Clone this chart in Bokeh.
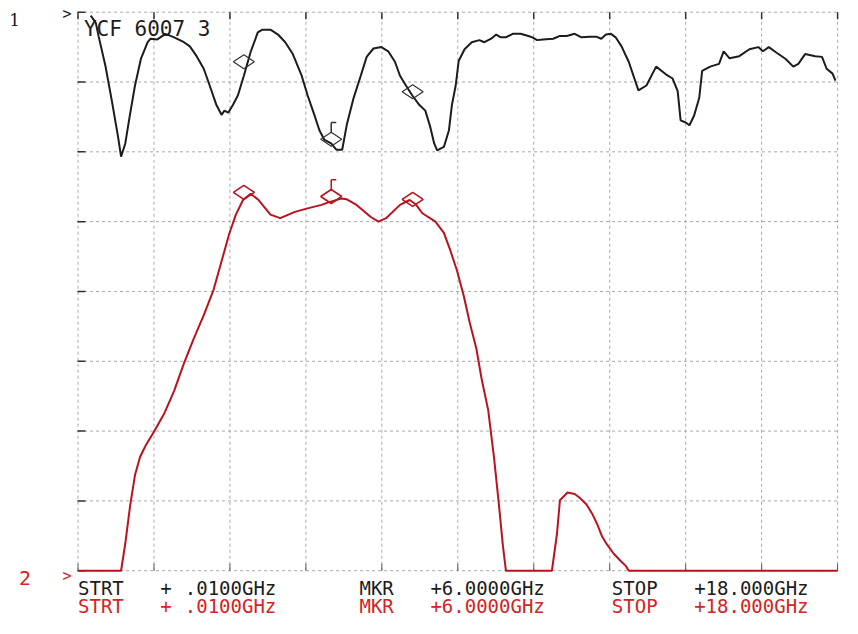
import numpy as np
from bokeh.plotting import figure
from bokeh.core.properties import value
from bokeh.embed import file_html
from bokeh.resources import INLINE

# ---------------- data (frequency in GHz, level in divisions, 0..8) ----------------
trace1_freq = [0.30, 0.42, 0.49, 0.65, 0.79, 0.95, 1.02, 1.12, 1.23, 1.35, 1.49, 1.65, 1.72,
               1.88, 2.07, 2.28, 2.51, 2.65, 2.81, 2.98, 3.12, 3.28, 3.40, 3.47, 3.56, 3.67,
               3.79, 3.93, 4.09, 4.26, 4.37, 4.56, 4.74, 4.91, 5.09, 5.30, 5.44, 5.60, 5.72,
               5.84, 6.00, 6.12, 6.26, 6.37, 6.53, 6.70, 6.84, 7.00, 7.19, 7.35, 7.51, 7.63,
               7.77, 7.93, 8.09, 8.23, 8.35, 8.44, 8.51, 8.67, 8.79, 8.86, 8.95, 9.02, 9.16,
               9.33, 9.51, 9.63, 9.79, 9.91, 10.02, 10.14, 10.30, 10.49, 10.67, 10.77, 10.88,
               11.02, 11.26, 11.42, 11.58, 11.77, 11.93, 12.12, 12.28, 12.40, 12.51, 12.63,
               12.74, 12.88, 13.05, 13.28, 13.47, 13.70, 13.93, 14.09, 14.21, 14.28, 14.40,
               14.49, 14.60, 14.72, 14.79, 14.98, 15.19, 15.30, 15.44, 15.67, 15.91, 16.12,
               16.23, 16.37, 16.53, 16.77, 16.95, 17.07, 17.23, 17.47, 17.63, 17.74, 17.88,
               17.95]
trace1_level = [7.95, 7.85, 7.65, 7.23, 6.77, 6.21, 5.93, 6.12, 6.53, 6.95, 7.33, 7.57, 7.62,
                7.61, 7.69, 7.64, 7.57, 7.51, 7.37, 7.19, 6.95, 6.67, 6.53, 6.59, 6.56, 6.67,
                6.81, 7.09, 7.43, 7.71, 7.75, 7.75, 7.68, 7.57, 7.40, 7.09, 6.81, 6.53, 6.31,
                6.17, 6.12, 6.03, 6.03, 6.39, 6.77, 7.09, 7.36, 7.48, 7.50, 7.44, 7.29, 7.09,
                6.95, 6.80, 6.67, 6.59, 6.35, 6.12, 6.02, 6.07, 6.31, 6.67, 6.95, 7.30, 7.47,
                7.57, 7.60, 7.57, 7.62, 7.68, 7.64, 7.64, 7.69, 7.69, 7.66, 7.64, 7.60,
                7.61, 7.62, 7.66, 7.66, 7.69, 7.64, 7.65, 7.65, 7.62, 7.68, 7.69,
                7.64, 7.51, 7.29, 6.88, 6.95, 7.22, 7.11, 7.05, 6.87, 6.45, 6.42,
                6.38, 6.52, 6.77, 7.16, 7.22, 7.26, 7.44, 7.34, 7.37, 7.47, 7.50,
                7.44, 7.50, 7.43, 7.33, 7.22, 7.26, 7.40, 7.37, 7.36, 7.19, 7.12,
                7.02]

trace2_freq = [0.01, 1.02, 1.12, 1.23, 1.35, 1.47, 1.60, 1.81, 2.05, 2.28, 2.51, 2.74, 2.98,
               3.21, 3.40, 3.58, 3.74, 3.91, 4.09, 4.28, 4.56, 4.79, 5.14, 5.44, 5.77, 5.95,
               6.23, 6.37, 6.60, 6.93, 7.12, 7.30, 7.63, 7.86, 8.00, 8.16, 8.47, 8.67, 8.81,
               8.98, 9.14, 9.28, 9.44, 9.56, 9.72, 9.86, 9.98, 10.07, 10.14, 11.23, 11.35,
               11.42, 11.60, 11.77, 11.88, 12.05, 12.19, 12.30, 12.42, 12.53, 12.70, 12.86,
               12.98, 13.05, 18.0]
trace2_level = [0.0, 0.0, 0.39, 0.91, 1.37, 1.63, 1.79, 2.00, 2.26, 2.58, 2.97, 3.32, 3.66,
                4.02, 4.43, 4.82, 5.10, 5.31, 5.40, 5.31, 5.10, 5.05, 5.14, 5.19, 5.24, 5.28,
                5.33, 5.32, 5.24, 5.07, 5.00, 5.05, 5.24, 5.31, 5.25, 5.12, 5.00, 4.84, 4.61,
                4.30, 3.94, 3.56, 3.18, 2.76, 2.30, 1.61, 0.91, 0.35, 0.0, 0.0, 0.53,
                1.01, 1.12, 1.10, 1.05, 0.95, 0.81, 0.67, 0.49, 0.38, 0.24, 0.14,
                0.07, 0.0, 0.0]

# markers: 1, 2 (active, 6 GHz), 3
marker_freq = [3.93, 6.00, 7.93]
marker1_level = [7.29, 6.18, 6.86]
marker2_level = [5.42, 5.36, 5.32]
active_marker = 1

grid_x = [0.0, 1.8, 3.6, 5.4, 7.2, 9.0, 10.8, 12.6, 14.4, 16.2, 18.0]
grid_y = [0, 1, 2, 3, 4, 5, 6, 7, 8]

title_text = "YCF 6007 3"
row1 = ["STRT", "+", ".0100GHz", "MKR", "+6.0000GHz", "STOP", "+18.000GHz"]
row_x = [0.0, 1.95, 2.53, 6.67, 8.35, 12.65, 14.60]

BLACK = "#1c1c1c"
RED = "#b8141f"
RED_TXT = "#d42424"
GRID = "#a8a8a8"
FONT = value("DejaVu Sans Mono")

# ---------------- figure ----------------
p = figure(width=842, height=618, output_backend="svg", toolbar_location=None,
           x_range=(-1.837, 18.116), y_range=(-0.684, 8.1675),
           x_axis_location=None, y_axis_location=None, min_border=0)
p.grid.visible = False
p.outline_line_color = None
p.background_fill_color = "white"
p.border_fill_color = "white"

# graticule
p.segment(x0=grid_x, x1=grid_x, y0=[0] * len(grid_x), y1=[8] * len(grid_x),
          line_color=GRID, line_width=1, line_dash="3 3")
p.segment(x0=[0] * len(grid_y), x1=[18] * len(grid_y), y0=grid_y, y1=grid_y,
          line_color=GRID, line_width=1, line_dash="3 3")
# short dark ticks on left edge and top edge
p.scatter(x=[0.08] * len(grid_y), y=grid_y, marker="dash", size=8, line_color="#333333", line_width=1.5)
p.scatter(x=grid_x, y=[7.95] * len(grid_x), marker="dash", angle=np.pi / 2, size=7,
          line_color="#333333", line_width=1.5)
p.scatter(x=grid_x, y=[0.05] * len(grid_x), marker="dash", angle=np.pi / 2, size=7,
          line_color="#555555", line_width=1)

# traces
p.line(trace1_freq, trace1_level, line_color=BLACK, line_width=2)
p.line(trace2_freq, trace2_level, line_color=RED, line_width=2)

# markers (diamonds drawn above trace point)
p.scatter(x=marker_freq, y=marker1_level, marker="diamond", angle=np.pi / 2, size=21,
          fill_color=None, line_color="#333333", line_width=1.2)
p.scatter(x=marker_freq, y=marker2_level, marker="diamond", angle=np.pi / 2, size=21,
          fill_color=None, line_color=RED, line_width=1.6)
# active marker flags
af = marker_freq[active_marker]
for lvl, col in ((marker1_level[active_marker], "#333333"), (marker2_level[active_marker], RED)):
    p.segment(x0=[af], x1=[af], y0=[lvl + 0.09], y1=[lvl + 0.24], line_color=col, line_width=1.5)
    p.segment(x0=[af], x1=[af + 0.12], y0=[lvl + 0.24], y1=[lvl + 0.24], line_color=col, line_width=1.5)

# texts
p.text(x=[0.14], y=[7.76], text=[title_text], text_font=FONT, text_font_size="21px",
       text_color=BLACK, text_baseline="alphabetic")
p.text(x=row_x, y=[-0.24] * len(row1), text=row1, text_font=FONT, text_font_size="19px",
       text_color=BLACK, text_baseline="alphabetic")
p.text(x=row_x, y=[-0.50] * len(row1), text=row1, text_font=FONT, text_font_size="19px",
       text_color=RED_TXT, text_baseline="alphabetic")

p.text(x=[-1.63], y=[7.89], text=["1"], text_font=value("DejaVu Serif"), text_font_size="17px",
       text_color=BLACK, text_baseline="alphabetic")
p.text(x=[-0.37], y=[7.97], text=[">"], text_font=FONT, text_font_size="15px",
       text_color=BLACK, text_baseline="alphabetic")
p.text(x=[-1.40], y=[-0.10], text=["2"], text_font=FONT, text_font_size="20px",
       text_color=RED_TXT, text_baseline="alphabetic")
p.text(x=[-0.37], y=[-0.08], text=[">"], text_font=FONT, text_font_size="15px",
       text_color=RED_TXT, text_baseline="alphabetic")

open("out.html", "w").write(file_html(p, INLINE))
